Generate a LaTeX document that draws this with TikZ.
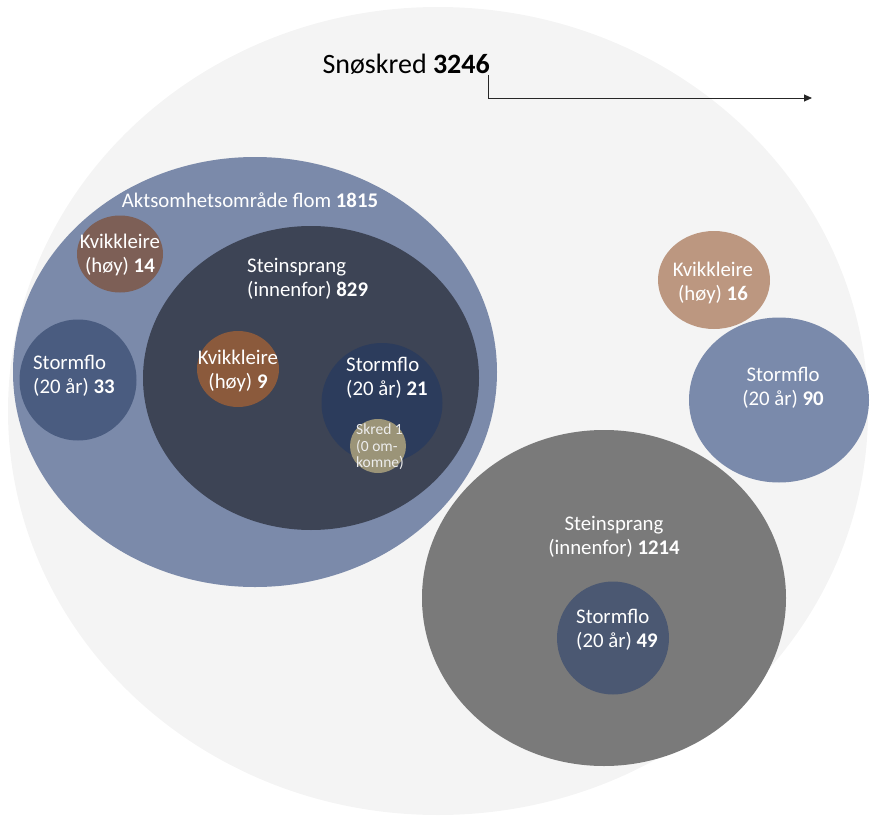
\documentclass[tikz,border=0pt]{standalone}
\usepackage{fontspec}
\setmainfont{Carlito}
\usetikzlibrary{shapes.geometric,arrows.meta}
\definecolor{cOuter}{HTML}{F4F4F4}
\definecolor{cAkt}{HTML}{7B8AAA}
\definecolor{cDark}{HTML}{3D4455}
\definecolor{cBrownA}{HTML}{7D5F56}
\definecolor{cStormA}{HTML}{4A5C80}
\definecolor{cBrownB}{HTML}{8B5A3C}
\definecolor{cStormB}{HTML}{2C3C5C}
\definecolor{cSkred}{HTML}{9B9478}
\definecolor{cBrownC}{HTML}{BC9780}
\definecolor{cStormC}{HTML}{7A8AAB}
\definecolor{cGray}{HTML}{7A7A7A}
\definecolor{cStormD}{HTML}{4B5872}
\tikzset{
  blob/.style={ellipse, draw=none, inner sep=0pt, outer sep=0pt},
  lbl/.style={text=white, inner sep=0pt, font=\fontsize{20.8}{24.5}\selectfont},
  smalllbl/.style={text=white!93!black, inner sep=0pt, font=\fontsize{15.5}{16.5}\selectfont},
  conn/.style={draw=black!85, line width=0.9pt, -{Triangle[length=8pt,width=7pt]}}
}
\begin{document}
\begin{tikzpicture}[x=1pt,y=-1pt]
\useasboundingbox (0,0) rectangle (870,816);
% shapes
\node[blob, fill=cOuter, minimum width=860, minimum height=808] (outer) at (438,411) {};
\node[blob, fill=cAkt, minimum width=484, minimum height=430] (akt) at (255,372) {};
\node[blob, fill=cDark, minimum width=336, minimum height=304] (stein1) at (311,378) {};
\node[blob, fill=cBrownA, minimum width=86, minimum height=77] (kv14) at (120,254) {};
\node[blob, fill=cStormA, minimum width=117, minimum height=121] (st33) at (78,380) {};
\node[blob, fill=cBrownB, minimum width=82, minimum height=76] (kv9) at (238,369) {};
\node[blob, fill=cStormB, minimum width=121, minimum height=120] (st21) at (382,403) {};
\node[blob, fill=cSkred, minimum width=56, minimum height=54] (skred) at (378,446) {};
\node[blob, fill=cBrownC, minimum width=112, minimum height=98] (kv16) at (714,280) {};
\node[blob, fill=cStormC, minimum width=180, minimum height=165] (st90) at (779,400) {};
\node[blob, fill=cGray, minimum width=364, minimum height=336] (stein2) at (604,598) {};
\node[blob, fill=cStormD, minimum width=112, minimum height=113] (st49) at (613,638) {};
% texts
\node[inner sep=0pt, font=\fontsize{28}{32}\selectfont, anchor=south east] (snolbl) at (490,75) {Snøskred \textbf{3246}};
\node[lbl] (taktl) at (250,200) {Aktsomhetsområde flom \textbf{1815}};
\node[lbl, align=center] (tkv14) at (120,255) {Kvikkleire\\(høy) \textbf{14}};
\node[lbl, align=left, anchor=west] (tst33) at (33,376) {Stormflo\\(20 år) \textbf{33}};
\node[lbl, align=left, anchor=west] (tstein1) at (247,279) {Steinsprang\\(innenfor) \textbf{829}};
\node[lbl, align=center] (tkv9) at (238,371) {Kvikkleire\\(høy) \textbf{9}};
\node[lbl, align=left, anchor=west] (tst21) at (346,378) {Stormflo\\(20 år) \textbf{21}};
\node[smalllbl, align=left, anchor=west] (tskred) at (356,447) {Skred 1\\(0 om-\\komne)};
\node[lbl, align=center] (tkv16) at (713,283) {Kvikkleire\\(høy) \textbf{16}};
\node[lbl, align=center] (tst90) at (783,388) {Stormflo\\(20 år) \textbf{90}};
\node[lbl, align=center] (tstein2) at (614,537) {Steinsprang\\(innenfor) \textbf{1214}};
\node[lbl, align=left, anchor=west] (tst49) at (576,630) {Stormflo\\(20 år) \textbf{49}};
% connector
\coordinate (arrowend) at (812,98);
\draw[conn] ([xshift=-2pt]snolbl.south east) |- (arrowend);
\end{tikzpicture}
\end{document}
